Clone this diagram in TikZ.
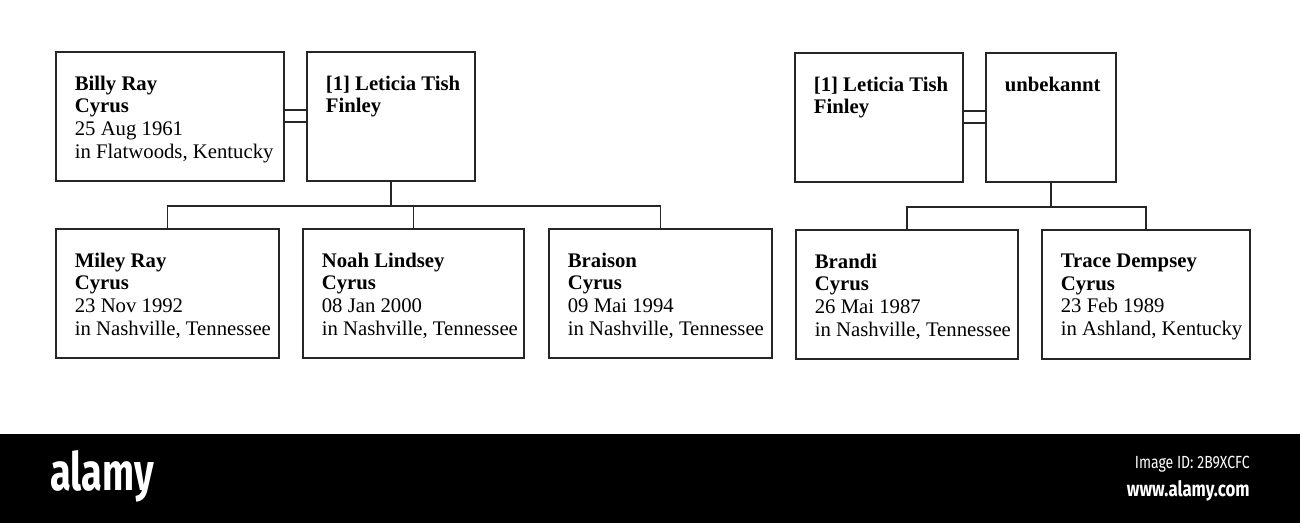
\documentclass[tikz,border=0pt]{standalone}
\usepackage{fontspec}
\setmainfont{Liberation Serif}
\newfontfamily\wmfont{Fira Sans}
\newcommand\who[4]{\textbf{#1}\\\textbf{#2}\\#3\\#4}
\begin{document}
\begin{tikzpicture}[x=0.02cm,y=-0.02cm,
  box/.style={draw=black!85,line width=1.1pt,anchor=north west,inner sep=0,
    minimum width=#1*0.02cm,minimum height=2.58cm},
  info/.style={anchor=north west,align=left,inner sep=0,xshift=0.39cm,yshift=-0.49cm,
    font=\fontsize{11.8}{12.9}\selectfont},
  kin/.style={draw=black!85,line width=1.1pt}]
\useasboundingbox (0,0) rectangle (1300,523);
%\draw[help lines] (0,0) grid (1300,523);
% first family
\path
(55,51) node[box=228,label={[info]north west:{\who{Billy Ray}{Cyrus}{25 Aug 1961}{in Flatwoods, Kentucky}}}] (billy) {}
(306,51) node[box=168,label={[info]north west:{\textbf{[1] Leticia Tish}\\\textbf{Finley}}}] (tish) {}
(55,228) node[box=223,label={[info]north west:{\who{Miley Ray}{Cyrus}{23 Nov 1992}{in Nashville, Tennessee}}}] (miley) {}
(302,228) node[box=221,label={[info]north west:{\who{Noah Lindsey}{Cyrus}{08 Jan 2000}{in Nashville, Tennessee}}}] (noah) {}
(548,228) node[box=223,label={[info]north west:{\who{Braison}{Cyrus}{09 Mai 1994}{in Nashville, Tennessee}}}] (braison) {};
\draw[kin] ([yshift=0.12cm]billy.east) -- ([yshift=0.12cm]tish.west);
\draw[kin] ([yshift=-0.12cm]billy.east) -- ([yshift=-0.12cm]tish.west);
\draw[kin] (tish.south) -- ++(0,24) coordinate (fam1);
\draw[kin] (miley.north) |- (fam1) -| (braison.north);
\draw[kin] (noah.north) -- (noah.north |- fam1);
% second family
\path
(794,52) node[box=168,label={[info]north west:{\textbf{[1] Leticia Tish}\\\textbf{Finley}}}] (tish2) {}
(985,52) node[box=130,label={[info]north west:{\textbf{unbekannt}}}] (unknown) {}
(795,229) node[box=222,label={[info]north west:{\who{Brandi}{Cyrus}{26 Mai 1987}{in Nashville, Tennessee}}}] (brandi) {}
(1041,229) node[box=208,label={[info]north west:{\who{Trace Dempsey}{Cyrus}{23 Feb 1989}{in Ashland, Kentucky}}}] (trace) {};
\draw[kin] ([yshift=0.12cm]tish2.east) -- ([yshift=0.12cm]unknown.west);
\draw[kin] ([yshift=-0.12cm]tish2.east) -- ([yshift=-0.12cm]unknown.west);
\draw[kin] (unknown.south) -- ++(0,24) coordinate (fam2);
\draw[kin] (brandi.north) |- (fam2) -| (trace.north);
% banner
\fill[black] (0,434) rectangle (1300,523);
\node[anchor=west,text=white,inner sep=0,font=\wmfont\bfseries\fontsize{30}{30}\selectfont] (logo) at (50,476) {\scalebox{0.72}[1]{alamy}};
\node[anchor=east,text=white,inner sep=0,font=\wmfont\fontsize{10}{10}\selectfont] (imgid) at (1250,464) {\scalebox{0.8}[1]{Image ID: 2B9XCFC}};
\node[anchor=east,text=white,inner sep=0,font=\wmfont\bfseries\fontsize{12}{12}\selectfont] (site) at (1250,491) {\scalebox{0.8}[1]{www.alamy.com}};
\end{tikzpicture}
\end{document}
